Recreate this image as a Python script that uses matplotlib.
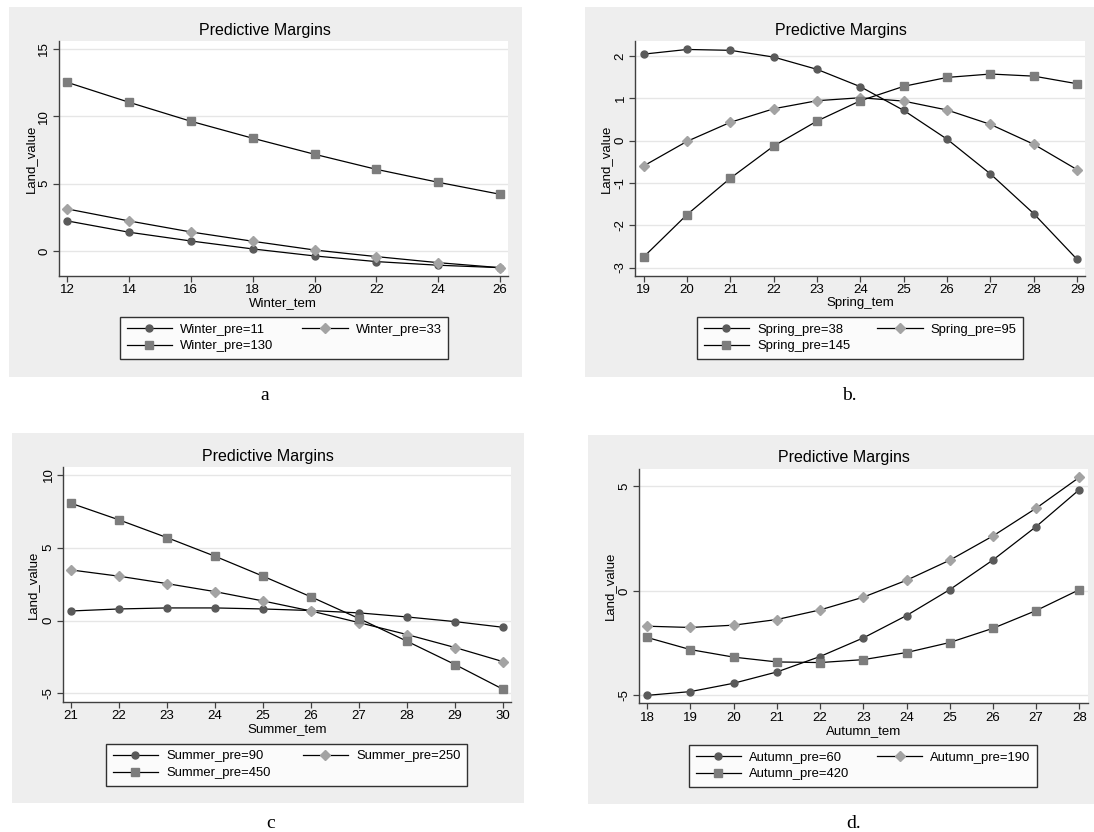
import matplotlib
matplotlib.use('Agg')

import matplotlib.pyplot as plt
from matplotlib.patches import Rectangle

plt.rcParams['font.family'] = ['Liberation Sans', 'DejaVu Sans']
plt.rcParams['axes.unicode_minus'] = False

# ---- data ----
winter_tem = [12, 14, 16, 18, 20, 22, 24, 26]
winter_pre11 = [2.23, 1.39, 0.74, 0.15, -0.37, -0.79, -1.06, -1.24]
winter_pre33 = [3.12, 2.23, 1.41, 0.72, 0.07, -0.42, -0.87, -1.24]
winter_pre130 = [12.52, 11.04, 9.63, 8.37, 7.18, 6.06, 5.10, 4.21]

spring_tem = [19, 20, 21, 22, 23, 24, 25, 26, 27, 28, 29]
spring_pre38 = [2.04, 2.15, 2.13, 1.97, 1.68, 1.27, 0.71, 0.03, -0.79, -1.73, -2.81]
spring_pre95 = [-0.60, -0.02, 0.43, 0.75, 0.94, 1.01, 0.93, 0.72, 0.38, -0.09, -0.69]
spring_pre145 = [-2.75, -1.75, -0.89, -0.13, 0.46, 0.94, 1.28, 1.49, 1.57, 1.52, 1.34]

summer_tem = [21, 22, 23, 24, 25, 26, 27, 28, 29, 30]
summer_pre90 = [0.66, 0.80, 0.87, 0.87, 0.80, 0.69, 0.53, 0.25, -0.07, -0.46]
summer_pre250 = [3.48, 3.05, 2.54, 1.99, 1.35, 0.66, -0.14, -0.96, -1.85, -2.82]
summer_pre450 = [8.06, 6.92, 5.70, 4.42, 3.05, 1.63, 0.14, -1.42, -3.02, -4.72]

autumn_tem = [18, 19, 20, 21, 22, 23, 24, 25, 26, 27, 28]
autumn_pre60 = [-5.0, -4.82, -4.42, -3.88, -3.14, -2.25, -1.18, 0.06, 1.48, 3.08, 4.85]
autumn_pre190 = [-1.69, -1.75, -1.64, -1.37, -0.91, -0.30, 0.51, 1.47, 2.63, 3.96, 5.44]
autumn_pre420 = [-2.23, -2.81, -3.17, -3.40, -3.43, -3.29, -2.95, -2.47, -1.79, -0.94, 0.06]

W, H = 1094, 832
BG = '#eeeeee'
AXC = '#404040'
marker_styles = [('o', '#5a5a5a', 5), ('D', '#a3a3a3', 5), ('s', '#7d7d7d', 5.5)]

panels = [
    dict(x=winter_tem, ys=[winter_pre11, winter_pre33, winter_pre130],
         labels=['Winter_pre=11', 'Winter_pre=33', 'Winter_pre=130'],
         xlabel='Winter_tem', xticks=winter_tem, yticks=[0, 5, 10, 15],
         xlim=(11.72, 26.26), ylim=(-1.86, 15.59),
         gray=(8.5, 7, 521.5, 377), plot=(58.6, 41, 508, 276),
         title_xy=(265, 30), xlab_y=303, ylab_x=30.7,
         leg=(120, 317, 448), cap='a', cap_xy=(265, 395)),
    dict(x=spring_tem, ys=[spring_pre38, spring_pre95, spring_pre145],
         labels=['Spring_pre=38', 'Spring_pre=95', 'Spring_pre=145'],
         xlabel='Spring_tem', xticks=spring_tem, yticks=[-3, -2, -1, 0, 1, 2],
         xlim=(18.80, 29.18), ylim=(-3.2, 2.35),
         gray=(585, 7, 1094, 377), plot=(635, 41, 1085, 276),
         title_xy=(841, 30), xlab_y=303, ylab_x=606,
         leg=(697, 317, 1023), cap='b.', cap_xy=(849, 395)),
    dict(x=summer_tem, ys=[summer_pre90, summer_pre250, summer_pre450],
         labels=['Summer_pre=90', 'Summer_pre=250', 'Summer_pre=450'],
         xlabel='Summer_tem', xticks=summer_tem, yticks=[-5, 0, 5, 10],
         xlim=(20.83, 30.17), ylim=(-5.57, 10.55),
         gray=(11.5, 433, 524, 803), plot=(62.8, 467, 511.3, 701.7),
         title_xy=(268, 456), xlab_y=729.5, ylab_x=33,
         leg=(106, 743.7, 467), cap='c', cap_xy=(271, 823)),
    dict(x=autumn_tem, ys=[autumn_pre60, autumn_pre190, autumn_pre420],
         labels=['Autumn_pre=60', 'Autumn_pre=190', 'Autumn_pre=420'],
         xlabel='Autumn_tem', xticks=autumn_tem, yticks=[-5, 0, 5],
         xlim=(17.81, 28.19), ylim=(-5.38, 5.85),
         gray=(588, 435, 1094, 804), plot=(639, 468.7, 1087.6, 703.3),
         title_xy=(844, 457.7), xlab_y=731, ylab_x=610,
         leg=(689, 745, 1037), cap='d.', cap_xy=(854, 823)),
]


def fx(x):
    return x / W


def fy(y):
    return 1 - y / H


fig = plt.figure(figsize=(W / 100, H / 100), dpi=100)
fig.patch.set_facecolor('white')

for p in panels:
    gx0, gy0, gx1, gy1 = p['gray']
    fig.patches.append(Rectangle((fx(gx0), fy(gy1)), (gx1 - gx0) / W, (gy1 - gy0) / H,
                                 transform=fig.transFigure, facecolor=BG, edgecolor='none', zorder=-5))

    x0, y0, x1, y1 = p['plot']
    ax = fig.add_axes([fx(x0), fy(y1), (x1 - x0) / W, (y1 - y0) / H])
    ax.set_zorder(2)
    ax.set_facecolor('white')

    handles = []
    for y, lab, (m, c, ms) in zip(p['ys'], p['labels'], marker_styles):
        h, = ax.plot(p['x'], y, color='black', lw=0.9, marker=m, markersize=ms,
                     markerfacecolor=c, markeredgecolor=c, label=lab, clip_on=False)
        handles.append(h)

    ax.set_xlim(*p['xlim'])
    ax.set_ylim(*p['ylim'])
    ax.set_xticks(p['xticks'])
    ax.set_yticks(p['yticks'])
    ax.yaxis.grid(True, color='#e6e6e6', lw=1.0)
    ax.set_axisbelow(True)
    for s in ('top', 'right'):
        ax.spines[s].set_visible(False)
    for s in ('left', 'bottom'):
        ax.spines[s].set_color(AXC)
        ax.spines[s].set_linewidth(1.0)
    ax.tick_params(axis='both', direction='out', length=4, width=0.9, color=AXC,
                   labelsize=9.5, pad=2)
    ax.tick_params(axis='y', labelrotation=90)
    for t in ax.get_yticklabels():
        t.set_va('center')

    fig.text(fx(p['title_xy'][0]), fy(p['title_xy'][1]), 'Predictive Margins',
             ha='center', va='center', fontsize=11.5)
    fig.text(fx((x0 + x1) / 2), fy(p['xlab_y']), p['xlabel'],
             ha='center', va='center', fontsize=9.5)
    fig.text(fx(p['ylab_x']), fy((y0 + y1) / 2), 'Land_value', rotation=90,
             ha='center', va='center', fontsize=9.5)
    fig.text(fx(p['cap_xy'][0]), fy(p['cap_xy'][1]), p['cap'], ha='center', va='center',
             fontsize=14, family=['Liberation Serif', 'DejaVu Serif'])

    lx0, ly0, lx1 = p['leg']
    order = [handles[0], handles[2], handles[1]]
    leg = ax.legend(order, [h.get_label() for h in order], ncol=2, mode='expand',
                    loc='upper left',
                    bbox_to_anchor=(fx(lx0), fy(ly0), (lx1 - lx0) / W, 0),
                    bbox_transform=fig.transFigure, fontsize=9.4, frameon=True,
                    fancybox=False, edgecolor='black', borderaxespad=0,
                    borderpad=0.5, labelspacing=0.35, handlelength=3.5,
                    handletextpad=0.6, numpoints=1)
    leg.get_frame().set_linewidth(1.0)

fig.savefig('out.png', dpi=100)
